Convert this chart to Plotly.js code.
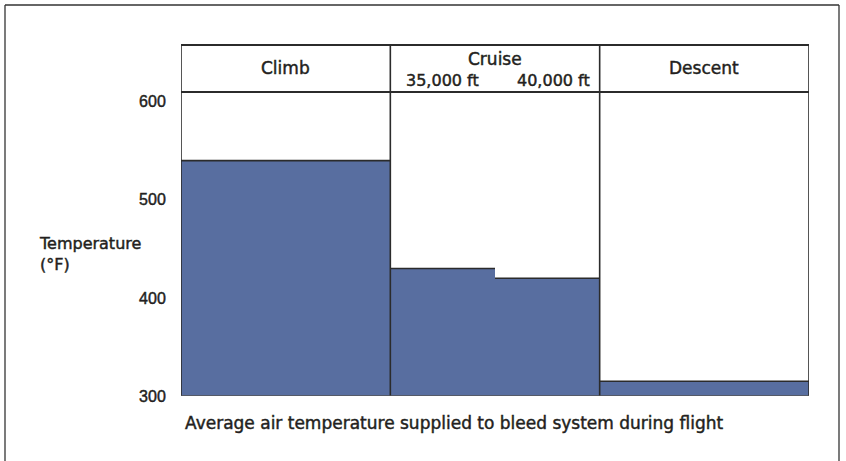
<!DOCTYPE html>
<html>
<head>
<meta charset="utf-8">
<script src="https://cdn.plot.ly/plotly-3.0.1.min.js"></script>
<style>
html,body{margin:0;padding:0;background:#fff;}
#chart{width:846px;height:461px;}
#chart svg text{stroke:#231f20;stroke-width:0.45px;}
</style>
</head>
<body>
<div id="chart"></div>
<script>
// ---- data ----
const phases = ['Climb', 'Cruise 35,000 ft', 'Cruise 40,000 ft', 'Descent'];
const temps = [540, 430, 420, 315];           // °F
const segStart = [0, 1, 1.5, 2];              // phase segment starts along x
const segEnd = [1, 1.5, 2, 3];                // phase segment ends along x
const headerMain = ['Climb', 'Cruise', 'Descent'];
const headerMainX = [0.5, 1.5, 2.5];
const headerSub = ['35,000 ft', '40,000 ft'];
const headerSubX = [1.25, 1.78];
const yTicks = [300, 400, 500, 600];
const yTitle = 'Temperature<br>(°F)';
const caption = 'Average air temperature supplied to bleed system during flight';

// ---- build ----
const TXT = '#231f20';
const LINE = '#2b2b2b';
const textFont = {family: 'DejaVu Sans, sans-serif', size: 16, color: TXT};

const barX = segStart.map((s, i) => (s + segEnd[i]) / 2);
const barW = segStart.map((s, i) => segEnd[i] - s);

const bars = {
  type: 'bar', x: barX, y: temps, width: barW, base: 0,
  marker: {color: '#586ea0', line: {width: 0}},
  hoverinfo: 'skip', text: phases, textposition: 'none', showlegend: false
};

// top edges of each bar
const edgeX = [], edgeY = [];
temps.forEach((t, i) => { edgeX.push(segStart[i], segEnd[i], null); edgeY.push(t, t, null); });
const edges = {
  type: 'scatter', mode: 'lines', x: edgeX, y: edgeY,
  line: {color: LINE, width: 1.6}, hoverinfo: 'skip', showlegend: false, cliponaxis: false
};

const plotL = 181, plotR = 809, plotT = 92, plotB = 396, W = 846, H = 461;
const pw = plotR - plotL, ph = plotB - plotT;
const pxX = p => (p - plotL) / pw;
const pxY = p => (plotB - p) / ph;
const headerTop = pxY(45);

const shapes = [];
// vertical frame + dividers
[0, 1, 2, 3].forEach(v => shapes.push({type: 'line', xref: 'x', yref: 'paper', x0: v, x1: v, y0: 0, y1: headerTop, line: {color: LINE, width: 1.6}}));
// header lines
[1, headerTop].forEach(v => shapes.push({type: 'line', xref: 'paper', yref: 'paper', x0: 0, x1: 1, y0: v, y1: v, line: {color: LINE, width: 1.8}}));
// outer frame (no bottom)
const fl = pxX(5), fr = pxX(839), ft = pxY(5), fb = pxY(475);
shapes.push({type: 'line', xref: 'paper', yref: 'paper', x0: fl, x1: fl, y0: fb, y1: ft, line: {color: '#333', width: 1.3}});
shapes.push({type: 'line', xref: 'paper', yref: 'paper', x0: fl, x1: fr, y0: ft, y1: ft, line: {color: '#333', width: 1.3}});
shapes.push({type: 'line', xref: 'paper', yref: 'paper', x0: fr, x1: fr, y0: fb, y1: ft, line: {color: '#333', width: 1.3}});

const annotations = [];
headerMain.forEach((t, i) => annotations.push({
  text: t, x: headerMainX[i], xref: 'x', yref: 'paper',
  y: t === 'Cruise' ? pxY(59) : pxY(68), showarrow: false,
  font: Object.assign({}, textFont, {size: 17}), xanchor: 'center', yanchor: 'middle'
}));
headerSub.forEach((t, i) => annotations.push({
  text: t, x: headerSubX[i], xref: 'x', yref: 'paper', y: pxY(80), showarrow: false,
  font: textFont, xanchor: 'center', yanchor: 'middle'
}));
annotations.push({text: yTitle, xref: 'paper', yref: 'paper', x: pxX(37), y: pxY(254), xanchor: 'left', yanchor: 'middle', align: 'left', showarrow: false, font: textFont});
annotations.push({text: caption, xref: 'paper', yref: 'paper', x: pxX(183), y: pxY(423), xanchor: 'left', yanchor: 'middle', align: 'left', showarrow: false, font: Object.assign({}, textFont, {size: 17})});

const layout = {
  width: W, height: H,
  margin: {l: plotL, r: W - plotR, t: plotT, b: H - plotB, pad: 0},
  paper_bgcolor: '#fff', plot_bgcolor: '#fff',
  bargap: 0,
  xaxis: {range: [0, 3], visible: false, fixedrange: true},
  yaxis: {
    range: [300, 610], tickvals: yTicks, ticktext: yTicks.map(String),
    showgrid: false, zeroline: false, showline: false,
    ticks: 'outside', ticklen: 11, tickcolor: 'rgba(0,0,0,0)',
    tickfont: {family: 'Liberation Sans, Arial, sans-serif', size: 16, color: TXT},
    fixedrange: true
  },
  shapes: shapes.concat([{type: 'line', xref: 'paper', yref: 'y', x0: 0, x1: 1, y0: 300, y1: 300, line: {color: '#555', width: 1.6}}]),
  annotations: annotations,
  showlegend: false
};

Plotly.newPlot('chart', [bars, edges], layout, {staticPlot: true, displayModeBar: false});
</script>
</body>
</html>
